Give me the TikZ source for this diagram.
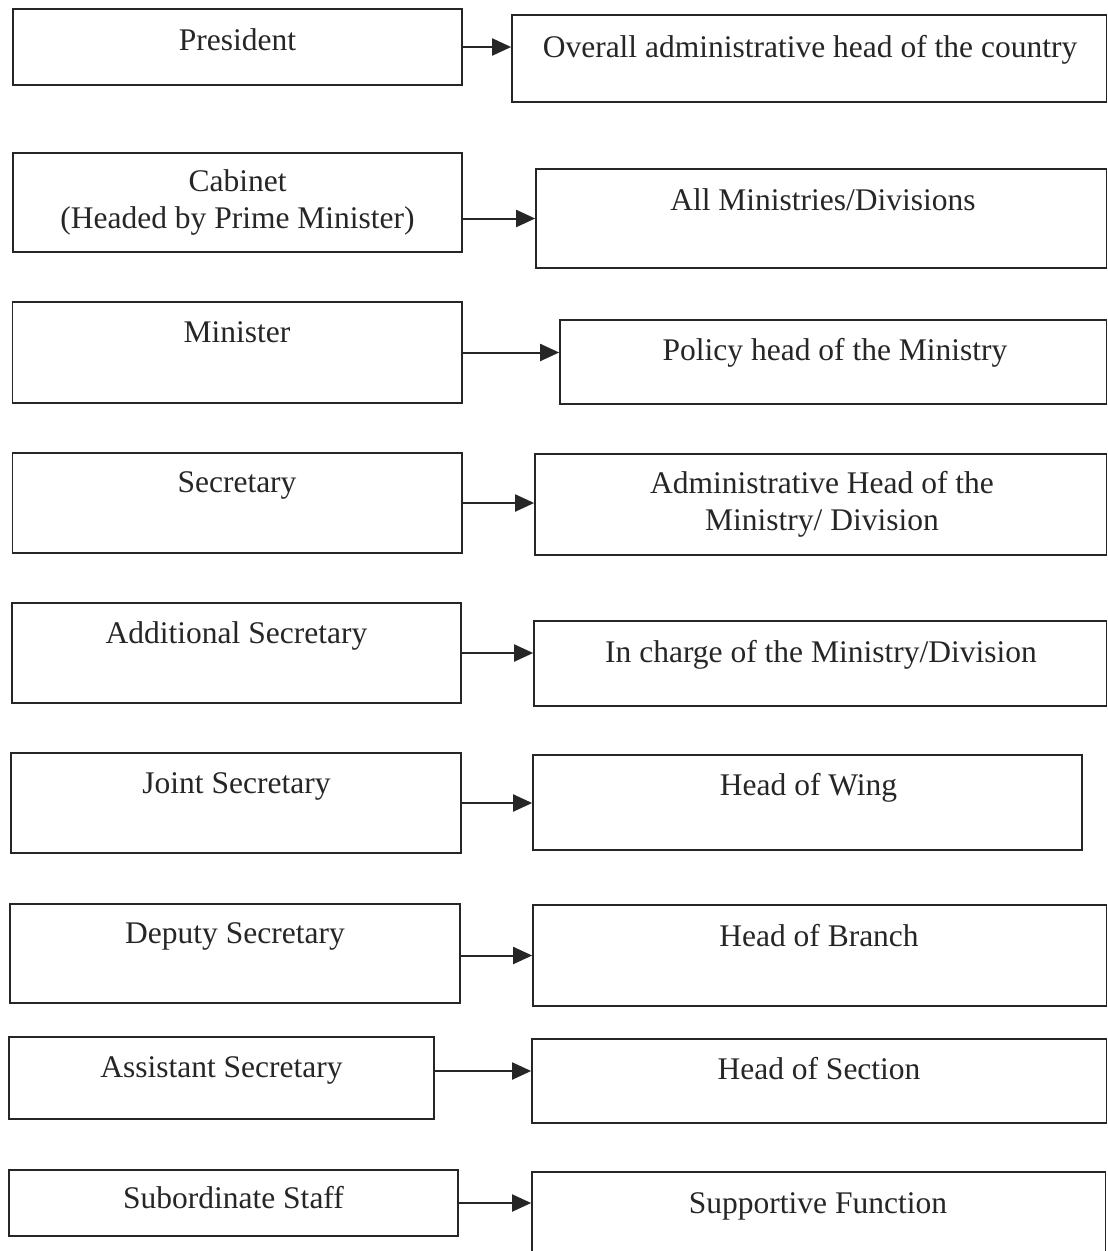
\documentclass[tikz,border=0pt]{standalone}
\usepackage{fontspec}
\setmainfont{Liberation Serif}
\usetikzlibrary{arrows.meta}
\definecolor{ink}{HTML}{262626}
\begin{document}
\begin{tikzpicture}[x=1pt,y=-1pt,
  box/.style={draw=ink, line width=1.7pt, inner sep=0pt, rectangle},
  lbl/.style={anchor=base, text=ink, font=\fontsize{31.5}{37}\selectfont, align=center, inner sep=0pt},
  arr/.style={draw=ink, line width=2pt, -{Triangle[length=19pt,width=17pt]}}]
\fill[white] (0,0) rectangle (1108,1251);
\useasboundingbox (0,0) rectangle (1108,1251);

% left boxes
\node[box, minimum width=449pt,   minimum height=76pt]  (L1) at (237.5,47)    {};
\node[box, minimum width=449pt,   minimum height=99pt]  (L2) at (237.5,202.5) {};
\node[box, minimum width=449.5pt, minimum height=101pt] (L3) at (237.25,352.5){};
\node[box, minimum width=449.5pt, minimum height=100pt] (L4) at (237.25,503)  {};
\node[box, minimum width=449pt,   minimum height=100pt] (L5) at (236.5,653)   {};
\node[box, minimum width=450pt,   minimum height=100pt] (L6) at (236,803)     {};
\node[box, minimum width=450pt,   minimum height=99pt]  (L7) at (235,953.5)   {};
\node[box, minimum width=425pt,   minimum height=82pt]  (L8) at (221.5,1078)  {};
\node[box, minimum width=449pt,   minimum height=66pt]  (L9) at (233.5,1203)  {};

% right boxes
\node[box, minimum width=594.5pt, minimum height=87pt]  (R1) at (809.25,58.5) {};
\node[box, minimum width=570.5pt, minimum height=99pt]  (R2) at (821.25,218.5){};
\node[box, minimum width=546.5pt, minimum height=84pt]  (R3) at (833.25,362)  {};
\node[box, minimum width=571.5pt, minimum height=101pt] (R4) at (820.75,504.5){};
\node[box, minimum width=572.5pt, minimum height=85pt]  (R5) at (820.25,663.5){};
\node[box, minimum width=549pt,   minimum height=95pt]  (R6) at (807.5,802.5) {};
\node[box, minimum width=573.5pt, minimum height=101pt] (R7) at (819.75,955.5){};
\node[box, minimum width=574.5pt, minimum height=84pt]  (R8) at (819.25,1081) {};
\node[box, minimum width=573.5pt, minimum height=118pt] (R9) at (818.75,1231) {};

% texts
\node[lbl] (t1L) at (237.5,50)  {President};
\node[lbl] (t1R) at (810,57)    {Overall administrative head of the country};
\node[lbl] (t2L) at (237.5,228) {Cabinet\\(Headed by Prime Minister)};
\node[lbl] (t2R) at (823,210)   {All Ministries/Divisions};
\node[lbl] (t3L) at (237,342)   {Minister};
\node[lbl] (t3R) at (835,360)   {Policy head of the Ministry};
\node[lbl] (t4L) at (237,492)   {Secretary};
\node[lbl] (t4R) at (822,530)   {Administrative Head of the\\Ministry/ Division};
\node[lbl] (t5L) at (236.5,643) {Additional Secretary};
\node[lbl] (t5R) at (821,662)   {In charge of the Ministry/Division};
\node[lbl] (t6L) at (236.5,793) {Joint Secretary};
\node[lbl] (t6R) at (808.5,795) {Head of Wing};
\node[lbl] (t7L) at (235,943)   {Deputy Secretary};
\node[lbl] (t7R) at (819,946)   {Head of Branch};
\node[lbl] (t8L) at (221.5,1077){Assistant Secretary};
\node[lbl] (t8R) at (819,1079)  {Head of Section};
\node[lbl] (t9L) at (233.5,1208){Subordinate Staff};
\node[lbl] (t9R) at (818,1213)  {Supportive Function};

% connectors
\draw[arr] (L1.east) -- (L1.east -| R1.west);
\draw[arr] (L2.east |- R2.west) -- (R2.west);
\draw[arr] (L3.east) -- (L3.east -| R3.west);
\draw[arr] (L4.east) -- (L4.east -| R4.west);
\draw[arr] (L5.east) -- (L5.east -| R5.west);
\draw[arr] (L6.east) -- (L6.east -| R6.west);
\draw[arr] (L7.east |- R7.west) -- (R7.west);
\draw[arr] ([yshift=7pt]L8.east) -- ([yshift=7pt]L8.east -| R8.west);
\draw[arr] (L9.east) -- (L9.east -| R9.west);
\end{tikzpicture}
\end{document}
